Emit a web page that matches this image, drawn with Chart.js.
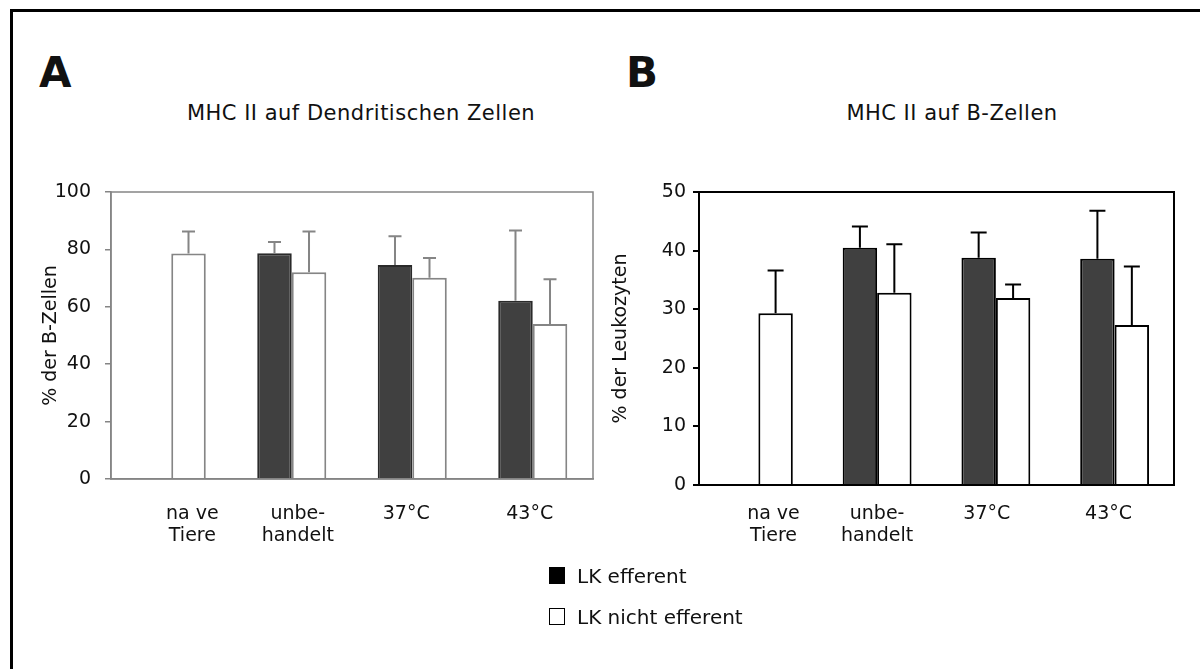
<!DOCTYPE html>
<html>
<head>
<meta charset="utf-8">
<script src="https://cdn.jsdelivr.net/npm/chart.js@4/dist/chart.umd.min.js"></script>
<style>
  body { margin:0; background:#fff; font-family:"DejaVu Sans", sans-serif; color:#111; }
  #page { position:relative; width:1200px; height:669px; overflow:hidden; }
  #frame { position:absolute; left:10px; top:9px; width:1300px; height:800px;
           border-top:3px solid #000; border-left:3px solid #000; }
  .panel { position:absolute; font-weight:bold; font-size:42px; line-height:42px; }
  .title { position:absolute; font-size:21px; white-space:nowrap; transform:translateX(-50%); letter-spacing:0.5px; }
  canvas { position:absolute; top:150px; }
  #legend { position:absolute; left:549px; top:564px; font-size:20px; }
  #legend div { height:41px; display:flex; align-items:flex-start; }
  #legend span.box { display:inline-block; width:14px; height:15px; border:1.5px solid #000; margin-right:12px; margin-top:3px; }
</style>
</head>
<body>
<div id="page">
  <div id="frame"></div>
  <div class="panel" style="left:39px;top:52px">A</div>
  <div class="panel" style="left:626px;top:52px">B</div>
  <div class="title" style="left:361px;top:101px">MHC II auf Dendritischen Zellen</div>
  <div class="title" style="left:952px;top:101px">MHC II auf B-Zellen</div>
  <canvas id="chartA" width="600" height="420" style="left:0"></canvas>
  <canvas id="chartB" width="600" height="420" style="left:600px"></canvas>
  <div id="legend">
    <div><span class="box" style="background:#000"></span>LK efferent</div>
    <div><span class="box" style="background:#fff"></span>LK nicht efferent</div>
  </div>
</div>
<script>
// groups on the x axis
const groups = [['na ve', 'Tiere'], ['unbe-', 'handelt'], '37°C', '43°C'];

// A: MHC II on dendritic cells, % of B cells (mean, upper SD)
const dcEfferent = [null, 78.7, 74.6, 62.1];
const dcEfferentSd = [null, 3.9, 10.0, 24.5];
const dcNonEfferent = [78.6, 72.0, 70.1, 54.0];
const dcNonEfferentSd = [7.6, 14.2, 6.9, 15.6];
const dcTicks = [0, 20, 40, 60, 80, 100];

// B: MHC II on B cells, % of leukocytes
const bcEfferent = [null, 40.5, 38.8, 38.6];
const bcEfferentSd = [null, 3.6, 4.3, 8.2];
const bcNonEfferent = [29.3, 32.8, 31.9, 27.3];
const bcNonEfferentSd = [7.3, 8.3, 2.3, 10.0];
const bcTicks = [0, 10, 20, 30, 40, 50];

// upward-only error bars with a cap
const errorBars = {
  id: 'errorBars',
  afterDatasetsDraw(chart, args, opts) {
    const ctx = chart.ctx, y = chart.scales.y;
    ctx.save();
    ctx.strokeStyle = opts.color;
    ctx.lineWidth = opts.width;
    chart.data.datasets.forEach((ds, i) => {
      chart.getDatasetMeta(i).data.forEach((bar, j) => {
        const v = ds.data[j], e = ds.errors[j];
        if (v == null || e == null) return;
        const top = y.getPixelForValue(v + e);
        ctx.beginPath();
        ctx.moveTo(bar.x, bar.y);
        ctx.lineTo(bar.x, top);
        ctx.moveTo(bar.x - opts.cap / 2, top);
        ctx.lineTo(bar.x + opts.cap / 2, top);
        ctx.stroke();
      });
    });
    ctx.restore();
  }
};

// closed box round the plot area
const plotBox = {
  id: 'plotBox',
  afterDraw(chart, args, opts) {
    const a = chart.chartArea, ctx = chart.ctx;
    ctx.save();
    ctx.strokeStyle = opts.color;
    ctx.lineWidth = opts.width;
    ctx.strokeRect(a.left, a.top, a.right - a.left, a.bottom - a.top);
    ctx.restore();
  }
};

// nudge a label sideways with spaces (n > 0 pads left, n < 0 pads right)
function nudge(label, n) {
  const pad = ' '.repeat(Math.abs(n));
  const one = t => n > 0 ? pad + t : t + pad;
  return Array.isArray(label) ? label.map(one) : one(label);
}

function makeChart(id, s) {
  return new Chart(document.getElementById(id), {
    type: 'bar',
    data: {
      labels: groups,
      datasets: [
        { data: s.efferent, errors: s.efferentSd, backgroundColor: '#404040',
          borderColor: s.darkEdge, borderWidth: 2 },
        { data: s.nonEfferent, errors: s.nonEfferentSd, backgroundColor: '#ffffff',
          borderColor: s.line, borderWidth: 2 }
      ]
    },
    options: {
      responsive: false,
      animation: false,
      layout: { padding: { top: 42, right: s.padRight, left: 0, bottom: 0 } },
      datasets: { bar: { categoryPercentage: s.catPct, barPercentage: 1 } },
      plugins: {
        legend: { display: false },
        tooltip: { enabled: false },
        errorBars: { color: s.line, width: 2, cap: s.cap },
        plotBox: { color: s.line, width: s.boxWidth }
      },
      scales: {
        x: {
          grid: { display: true, drawOnChartArea: false, drawTicks: false },
          border: { color: s.line, width: s.boxWidth },
          ticks: { color: '#111', padding: s.xPad, maxRotation: 0, autoSkip: false,
                   font: { family: 'DejaVu Sans', size: 19, lineHeight: 1.15 },
                   callback(value, i) { return nudge(groups[i], s.shift[i]); } },
          afterFit(scale) { scale.height = s.xHeight; }
        },
        y: {
          min: 0, max: s.ticks[s.ticks.length - 1],
          afterBuildTicks(scale) { scale.ticks = s.ticks.map(v => ({ value: v })); },
          grid: { drawOnChartArea: false, drawTicks: true, tickLength: 6, color: s.line, lineWidth: s.boxWidth },
          border: { color: s.line, width: s.boxWidth },
          ticks: { color: '#111', padding: s.yPad,
                   font: { family: 'DejaVu Sans', size: 19 } },
          title: { display: true, text: s.yTitle, color: '#111', padding: { top: s.titlePad, bottom: 0 },
                   font: { family: 'DejaVu Sans', size: 19 } },
          afterFit(scale) { scale.width = s.yWidth; }
        }
      }
    },
    plugins: [errorBars, plotBox]
  });
}

makeChart('chartA', {
  efferent: dcEfferent, efferentSd: dcEfferentSd,
  nonEfferent: dcNonEfferent, nonEfferentSd: dcNonEfferentSd,
  ticks: dcTicks, yTitle: '% der B-Zellen',
  line: '#858585', darkEdge: '#2a2a2a', boxWidth: 1.5, cap: 13,
  catPct: 0.573, padRight: 7, yWidth: 111, xHeight: 91,
  xPad: 24, yPad: 14, titlePad: 40, shift: [7, 2, -2, -1]
});

makeChart('chartB', {
  efferent: bcEfferent, efferentSd: bcEfferentSd,
  nonEfferent: bcNonEfferent, nonEfferentSd: bcNonEfferentSd,
  ticks: bcTicks, yTitle: '% der Leukozyten',
  line: '#000000', darkEdge: '#000000', boxWidth: 2, cap: 16,
  catPct: 0.58, padRight: 26, yWidth: 99, xHeight: 85,
  xPad: 18, yPad: 7, titlePad: 10, shift: [5, 0, -3, -2]
});
</script>
</body>
</html>
